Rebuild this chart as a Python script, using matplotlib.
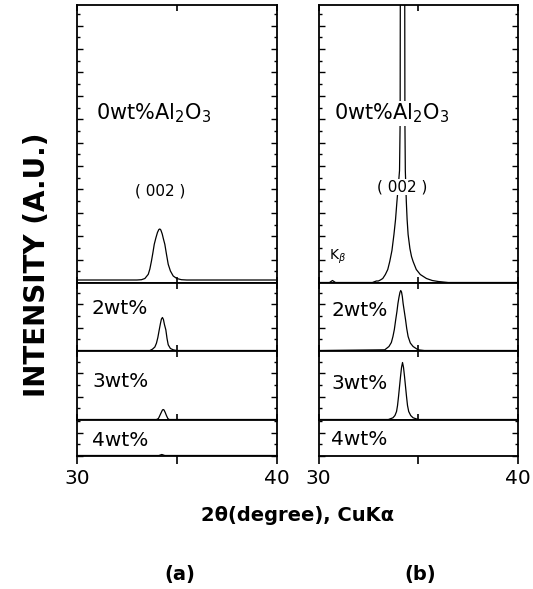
import numpy as np
import matplotlib.pyplot as plt
from matplotlib.ticker import MultipleLocator

plt.rcParams['font.family'] = ['DejaVu Sans']
plt.rcParams['mathtext.fontset'] = 'dejavusans'

# 衍射数据 (2theta, 峰高 a.u.)
# (a) 0, 2, 3, 4 wt%
a0_x = [30.0, 33.0, 33.23, 33.40, 33.57, 33.65, 33.73, 33.80, 33.87, 33.95, 34.03, 34.10, 34.15,
        34.20, 34.27, 34.33, 34.40, 34.48, 34.57, 34.68, 34.82, 35.0, 35.23, 35.5, 40.0]
a0_y = [0, 0, 0.3, 1.5, 5.7, 11, 19, 27, 35.7, 42, 47.5, 50.5, 51,
        50, 46, 41, 35.7, 26, 15.7, 9, 4, 1.5, 0.3, 0, 0]
a2_x = [30.0, 33.65, 33.78, 33.90, 33.98, 34.05, 34.12, 34.18, 34.23, 34.28, 34.33, 34.38,
        34.45, 34.51, 34.57, 34.68, 34.82, 35.0, 40.0]
a2_y = [0, 0, 1.3, 3.5, 7.3, 13, 20.7, 27, 31.5, 33, 31, 26,
        20.7, 12, 5.7, 2, 0.7, 0, 0]
a3_x = [30.0, 33.98, 34.08, 34.15, 34.22, 34.28, 34.32, 34.36, 34.42, 34.48, 34.55, 34.62, 40.0]
a3_y = [0, 0, 1, 4, 7, 9.5, 10, 9.5, 7, 4, 1, 0, 0]
a4_x = [30.0, 34.10, 34.25, 34.40, 40.0]
a4_y = [0, 0, 1, 0, 0]

# (b) 0, 2, 3, 4 wt%
b0_x = [30.0, 30.55, 30.70, 30.85, 32.7, 32.9, 33.0, 33.1, 33.22, 33.35, 33.47, 33.57, 33.68,
        33.78, 33.86, 33.93, 34.0, 34.06, 34.09, 34.10, 34.11, 34.21, 34.31, 34.32, 34.33,
        34.35, 34.40, 34.44, 34.49, 34.58, 34.66, 34.74, 34.9, 35.1, 35.41, 35.7, 36.0, 36.5, 40.0]
b0_y = [0, 0, 2, 0, 0, 1.5, 1.5, 2.5, 4, 8, 13, 21, 32,
        48, 63, 81, 97, 112, 160, 300, 600, 900, 600, 300, 160,
        112, 81, 63, 48, 34, 26, 21, 13, 8, 4, 2, 1, 0, 0]
b2_x = [30.0, 33.32, 33.53, 33.65, 33.73, 33.80, 33.87, 33.93, 33.98, 34.03, 34.08, 34.12,
        34.16, 34.20, 34.24, 34.30, 34.36, 34.42, 34.49, 34.60, 34.74, 34.99, 35.3, 40.0]
b2_y = [0, 0.7, 4, 8, 14, 21, 31, 39, 47, 53, 58, 60,
        58.5, 54, 47, 39, 31, 22, 14, 7.5, 4, 0.7, 0, 0]
b3_x = [30.0, 33.5, 33.73, 33.83, 33.91, 33.96, 34.01, 34.06, 34.11, 34.16, 34.21, 34.26,
        34.31, 34.36, 34.41, 34.46, 34.52, 34.62, 34.74, 35.0, 40.0]
b3_y = [0, 0, 1.7, 4, 8, 14, 23, 33, 43, 52, 57, 52,
        43, 33, 23, 14, 8, 4, 1.7, 0, 0]
b4_x = [30.0, 40.0]
b4_y = [0, 0]

background = [[3, 0.5, 0.5, 0.5], [0.5, 0.5, 0.5, 0.5]]
labels = ['0wt%Al$_2$O$_3$', '2wt%', '3wt%', '4wt%']
panel_top = [278, 68, 69, 36]

traces = [
    [(a0_x, a0_y), (a2_x, a2_y), (a3_x, a3_y), (a4_x, a4_y)],
    [(b0_x, b0_y), (b2_x, b2_y), (b3_x, b3_y), (b4_x, b4_y)],
]

fig = plt.figure(figsize=(5.33, 5.89), dpi=100)
gs = fig.add_gridspec(4, 2, left=0.1445, right=0.972, top=0.9915, bottom=0.2258,
                      wspace=0.21, hspace=0, height_ratios=panel_top)

label_pos = [[(0.095, 0.61), (0.075, 0.62), (0.075, 0.555), (0.075, 0.44)],
             [(0.08, 0.61), (0.065, 0.60), (0.065, 0.53), (0.065, 0.45)]]

for col in range(2):
    for row in range(4):
        ax = fig.add_subplot(gs[row, col])
        x, y = traces[col][row]
        ax.plot(x, np.array(y) + background[col][row], color='black', lw=0.9)
        ax.set_xlim(30, 40)
        ax.set_ylim(0, panel_top[row])
        for s in ax.spines.values():
            s.set_linewidth(1.3)
        ax.yaxis.set_major_locator(MultipleLocator(23.4))
        ax.yaxis.set_minor_locator(MultipleLocator(11.7))
        ax.tick_params(axis='y', which='both', direction='in', left=True, right=True,
                       labelleft=False)
        ax.tick_params(axis='y', which='major', length=4, width=1)
        ax.tick_params(axis='y', which='minor', length=2.2, width=1)
        ax.set_xticks([30, 35, 40])
        if row == 3:
            ax.set_xticklabels(['30', '', '40'], fontsize=14.5)
            ax.tick_params(axis='x', direction='out', length=6, width=1.2, pad=3, top=False)
        else:
            ax.tick_params(axis='x', direction='in', length=4, width=1.2, top=True,
                           labelbottom=False)
        lx, ly = label_pos[col][row]
        fs = 15 if row == 0 else 14.5
        ax.text(lx, ly, labels[row], transform=ax.transAxes, fontsize=fs, va='center',
                ha='left', zorder=5,
                bbox=dict(facecolor='white', edgecolor='none', pad=0.5))
        if row == 0:
            ypk = 0.33 if col == 0 else 0.345
            xpk = 34.15 if col == 0 else 34.2
            ax.text(xpk, ypk, '( 002 )', transform=ax.get_xaxis_transform(), fontsize=11,
                    ha='center', va='center', zorder=5,
                    bbox=dict(facecolor='white', edgecolor='none', pad=0.5))
            if col == 1:
                ax.text(30.95, 0.094, 'K$_\\beta$', transform=ax.get_xaxis_transform(),
                        fontsize=10, ha='center', va='center')

fig.text(0.07, 0.55, 'INTENSITY (A.U.)', rotation=90, fontsize=20, fontweight='bold',
         ha='center', va='center')
fig.text(0.559, 0.124, '2θ(degree), CuKα', fontsize=14, fontweight='bold',
         ha='center', va='center')
fig.text(0.338, 0.024, '(a)', fontsize=14, fontweight='bold', ha='center', va='center')
fig.text(0.788, 0.024, '(b)', fontsize=14, fontweight='bold', ha='center', va='center')

plt.savefig('out.png', dpi=100)
